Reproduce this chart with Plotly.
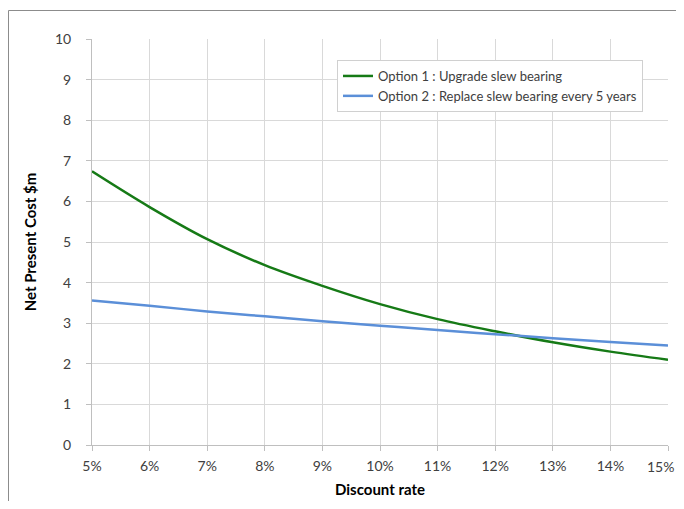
import plotly.graph_objects as go

discount_rate = [5, 6, 7, 8, 9, 10, 11, 12, 13, 14, 15]
tick_labels = ["5%", "6%", "7%", "8%", "9%", "10%", "11%", "12%", "13%", "14%", "15%"]
option1 = [6.74, 5.86, 5.07, 4.43, 3.92, 3.47, 3.10, 2.80, 2.53, 2.30, 2.10]
option2 = [3.56, 3.43, 3.29, 3.17, 3.05, 2.94, 2.83, 2.73, 2.63, 2.54, 2.45]
name1 = "Option 1 : Upgrade slew bearing"
name2 = "Option 2 : Replace slew bearing every 5 years"

FONT = "Lato, 'Open Sans', sans-serif"

# page body has an 8px margin, so the figure is smaller and shifted by 8px
W, H = 676, 493
L, R, T, B = 84, 16, 31, 56
PW, PH = W - L - R, H - T - B


def px_x(p):
    return (p - 8 - L) / PW


def px_y(p):
    return (H - B - (p - 8)) / PH


fig = go.Figure()
fig.add_trace(go.Scatter(x=discount_rate, y=option1, mode="lines", name=name1,
                         line=dict(color="#167a16", width=2.5, shape="spline")))
fig.add_trace(go.Scatter(x=discount_rate, y=option2, mode="lines", name=name2,
                         line=dict(color="#5b8fd8", width=2.5, shape="spline")))

# last tick label drawn as an annotation kept inside the visible page
fig.add_annotation(x=discount_rate[-1], y=0, xref="x", yref="paper",
                   text=tick_labels[-1], showarrow=False,
                   xanchor="right", yanchor="middle", xshift=8, yshift=-21,
                   font=dict(family=FONT, size=14, color="#404040"))

fig.update_layout(
    width=W, height=H,
    margin=dict(l=L, r=R, t=T, b=B),
    paper_bgcolor="white", plot_bgcolor="white",
    font=dict(family=FONT, size=14, color="#404040"),
    showlegend=True,
    legend=dict(x=px_x(337), y=px_y(60), xanchor="left", yanchor="top",
                bordercolor="#d0d0d0", borderwidth=1, bgcolor="white",
                font=dict(family=FONT, size=13, color="#404040"),
                tracegroupgap=0, itemwidth=30),
    xaxis=dict(range=[5, 15], tickmode="array", tickvals=discount_rate,
               ticktext=tick_labels[:-1] + [""], automargin=False,
               showgrid=True, gridcolor="#d9d9d9", gridwidth=1,
               showline=True, linecolor="#bfbfbf", linewidth=1,
               ticks="outside", ticklen=5, tickcolor="#bfbfbf",
               ticklabelstandoff=3, zeroline=False,
               tickfont=dict(family=FONT, size=14, color="#404040"),
               title=dict(text="<b>Discount rate</b>", standoff=11,
                          font=dict(family=FONT, size=15, color="#000000"))),
    yaxis=dict(range=[0, 10], dtick=1, automargin=False,
               showgrid=True, gridcolor="#d9d9d9", gridwidth=1,
               showline=True, linecolor="#bfbfbf", linewidth=1,
               ticks="outside", ticklen=5, tickcolor="#bfbfbf",
               ticklabelstandoff=12, zeroline=False,
               tickfont=dict(family=FONT, size=14, color="#404040"),
               title=dict(text="<b>Net Present Cost $m</b>", standoff=14,
                          font=dict(family=FONT, size=15, color="#000000"))),
    shapes=[
        dict(type="line", xref="paper", yref="paper",
             x0=px_x(8.5), x1=px_x(8.5), y0=px_y(10.5), y1=px_y(520),
             line=dict(color="#8c8c8c", width=1), layer="above"),
        dict(type="line", xref="paper", yref="paper",
             x0=px_x(8.5), x1=px_x(700), y0=px_y(10.5), y1=px_y(10.5),
             line=dict(color="#8c8c8c", width=1), layer="above"),
    ],
)

fig.write_html("out.html")
